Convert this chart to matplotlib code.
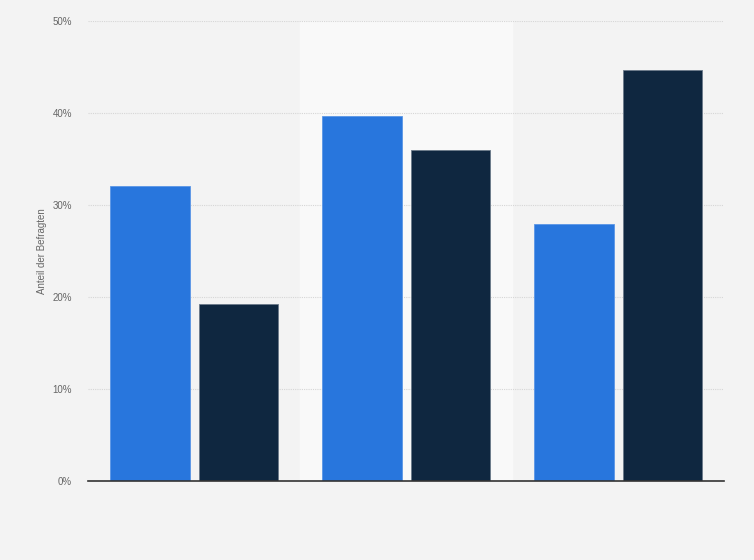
import numpy as np
import matplotlib.pyplot as plt
from matplotlib.ticker import FuncFormatter

plt.rcParams['font.family'] = ['Liberation Sans', 'DejaVu Sans']

# Werte in Prozent
gruppen = ['Gruppe 1', 'Gruppe 2', 'Gruppe 3']
serie_a = [32.1, 39.7, 27.9]
serie_b = [19.2, 36.0, 44.7]
y_ticks = [0, 10, 20, 30, 40, 50]

blau = '#2876dd'
dunkel = '#0f2740'

fig = plt.figure(figsize=(7.54, 5.60), dpi=100, facecolor='#f3f3f3')
ax = fig.add_axes([0.1167, 0.1411, 0.8435, 0.8214])
ax.set_facecolor('#f3f3f3')

x = np.arange(len(gruppen))
breite = 0.377
ax.axvspan(0.5, 1.5, color='#f9f9f9', zorder=0)
ax.bar(x - 0.2075, serie_a, width=breite, color=blau, edgecolor='#5a96e6', linewidth=0.6, zorder=3)
ax.bar(x + 0.21, serie_b, width=breite, color=dunkel, edgecolor='#6b7a8a', linewidth=0.6, zorder=3)

ax.set_xlim(-0.5, 2.5)
ax.set_ylim(0, 50)
ax.set_yticks(y_ticks)
ax.yaxis.set_major_formatter(FuncFormatter(lambda v, p: f'{v:.0f}%'))
ax.set_xticks([])
ax.grid(axis='y', color='#d6d6d6', linestyle=(0, (1, 1)), linewidth=0.8, zorder=1)
for s in ['top', 'right', 'left']:
    ax.spines[s].set_visible(False)
ax.spines['bottom'].set_color('#333333')
ax.spines['bottom'].set_linewidth(1.2)
ax.spines['bottom'].set_zorder(4)
ax.tick_params(axis='y', length=0, pad=11.5, labelsize=7, labelcolor='#666666')

ax.set_ylabel('Anteil der Befragten', fontsize=7, color='#666666', labelpad=4)

fig.savefig('out.png', dpi=100, facecolor=fig.get_facecolor())
